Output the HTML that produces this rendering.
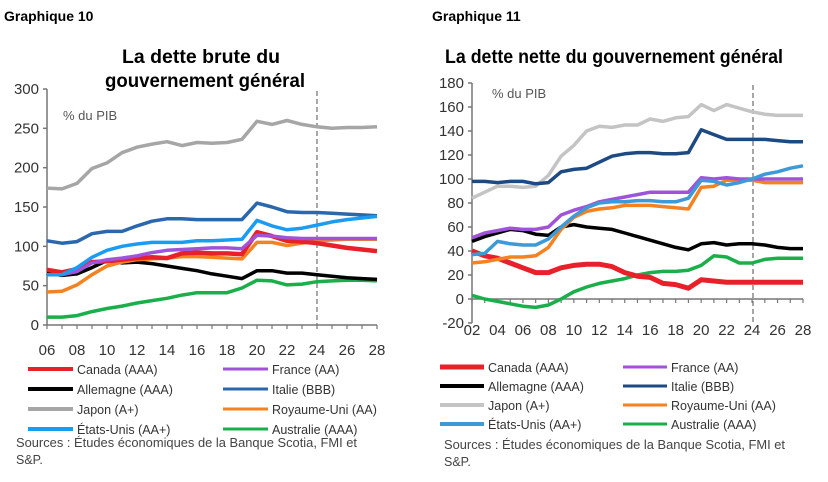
<!DOCTYPE html>
<html><head><meta charset="utf-8">
<style>
body{margin:0;background:#fff;width:828px;height:482px;overflow:hidden;font-family:"Liberation Sans",sans-serif;}
svg{position:absolute;left:0;top:0}
</style></head><body>
<svg id="s" width="828" height="482" xmlns="http://www.w3.org/2000/svg" font-family="Liberation Sans, sans-serif">
<text x="4" y="21" font-size="14" font-weight="bold" fill="#000">Graphique 10</text>
<text x="432" y="21" font-size="14" font-weight="bold" fill="#000">Graphique 11</text>
<text x="122" y="63" font-size="19" font-weight="bold" textLength="158" lengthAdjust="spacingAndGlyphs">La dette brute du</text>
<text x="105" y="87" font-size="19" font-weight="bold" textLength="200" lengthAdjust="spacingAndGlyphs">gouvernement général</text>
<text x="445" y="63" font-size="19" font-weight="bold" textLength="338" lengthAdjust="spacingAndGlyphs">La dette nette du gouvernement général</text>
<text x="63" y="120" font-size="13" fill="#555">% du PIB</text>
<text x="492" y="98" font-size="13" fill="#555">% du PIB</text>
<text x="16" y="447" font-size="12.5" fill="#444" textLength="341" lengthAdjust="spacingAndGlyphs">Sources : Études économiques de la Banque Scotia, FMI et</text>
<text x="16" y="464" font-size="12.5" fill="#444">S&amp;P.</text>
<text x="444" y="449" font-size="12.5" fill="#444" textLength="341" lengthAdjust="spacingAndGlyphs">Sources : Études économiques de la Banque Scotia, FMI et</text>
<text x="444" y="466" font-size="12.5" fill="#444">S&amp;P.</text>
<g id="g"></g>
</svg>
<script>
var g=document.getElementById('g'),h='';
function ln(x1,y1,x2,y2,c,w,d){h+='<line x1="'+x1+'" y1="'+y1+'" x2="'+x2+'" y2="'+y2+'" stroke="'+c+'" stroke-width="'+w+'"'+(d?' stroke-dasharray="'+d+'"':'')+'/>';}
function tx(x,y,t,a,s,c){h+='<text x="'+x+'" y="'+y+'" font-size="'+(s||14)+'" text-anchor="'+(a||'start')+'" fill="'+(c||'#333')+'">'+t+'</text>';}
function chart(o){
 var X=function(i){return o.x0+i*o.dx},Y=function(v){return o.y0-v*o.dy};
 ln(o.x0,Y(o.ymin),o.x0,Y(o.ymax),'#777',1.5);
 for(var v=o.ymin;v<=o.ymax;v+=o.ystep){ln(o.x0-4,Y(v),o.x0,Y(v),'#777',1.5);tx(o.x0-8,Y(v)+5,v,'end',15);}
 ln(o.x0,Y(0),X(o.n-1),Y(0),'#777',1.5);
 for(var i=0;i<o.n;i++){ln(X(i),Y(0),X(i),Y(0)+4,'#777',1.2);}
 for(var i=0;i<o.n;i+=2){var yr=o.start+i;tx(X(i),o.xly,(yr<10?'0':'')+yr,'middle',15);}
 ln(o.dash,Y(o.ymax)+2,o.dash,Y(o.ymin),'#777',1.3,'5,3');
 o.series.forEach(function(s){var p=s.d.map(function(v,i){return (i?'L':'M')+X(i).toFixed(1)+','+Y(v).toFixed(1)}).join('');
  h+='<path d="'+p+'" fill="none" stroke="'+s.c+'" stroke-width="'+(s.w||3.5)+'" stroke-linejoin="round"/>';});
 var L=o.leg;o.legend.forEach(function(s,k){var col=k%2,row=Math.floor(k/2);var lx=L.x[col],ly=L.y+row*L.dy;
  ln(lx,ly,lx+L.len,ly,s.c,s.w||4);tx(lx+L.len+4,ly+5,s.n,'start',12.5,'#333');});
}
var CA='#e8202a',FR='#a052d8',DE='#000',JPl='#a6a6a6',UK='#f58220',AU='#1aaf4b';
var L1={ca:[70,67,71,80,81,83,85,86,85,91,92,91,91,90,118,113,107,106,104,101,98,96,94],
fr:[64,64,68,79,83,85,88,92,95,96,97,98,98,97,114,113,111,110,110,110,110,110,110],
de:[66,63,65,73,82,79,80,78,75,72,69,65,62,59,69,69,66,66,64,62,60,59,58],
it:[107,104,106,116,119,119,126,132,135,135,134,134,134,134,155,150,144,143,143,142,141,140,139],
jp:[174,173,180,199,206,219,226,230,233,228,232,231,232,236,259,255,260,255,252,250,251,251,252],
uk:[42,43,51,64,75,80,83,84,85,87,87,86,85,84,105,105,101,104,107,108,109,109,109],
us:[64,64,73,86,95,100,103,105,105,105,107,107,108,109,133,126,121,123,127,131,134,136,138],
au:[10,10,12,17,21,24,28,31,34,38,41,41,41,47,57,56,51,52,55,56,57,57,56]};
var it1='#2a67ad',us1='#1a9cf2';
chart({x0:47,dx:15,y0:325,dy:236/300,ymin:0,ymax:300,ystep:50,n:23,start:6,xly:355,dash:317,
series:[{c:JPl,d:L1.jp},{c:it1,d:L1.it},{c:AU,d:L1.au},{c:DE,d:L1.de},{c:UK,d:L1.uk},{c:CA,d:L1.ca,w:4.5},{c:FR,d:L1.fr},{c:us1,d:L1.us}],
legend:[{c:CA,n:'Canada (AAA)'},{c:FR,n:'France (AA)',w:3},{c:DE,n:'Allemagne (AAA)'},{c:it1,n:'Italie (BBB)',w:3},{c:JPl,n:'Japon (A+)'},{c:UK,n:'Royaume-Uni (AA)',w:3},{c:us1,n:'États-Unis (AA+)'},{c:AU,n:'Australie (AAA)',w:3}],
leg:{x:[28,223],y:369,dy:20,len:45}});
var L2={ca:[40,36,34,30,26,22,22,26,28,29,29,27,22,19,18,13,12,9,16,15,14,14,14,14,14,14,14],
fr:[51,55,57,59,58,58,60,70,74,77,81,83,85,87,89,89,89,89,101,100,101,100,100,100,100,100,100],
de:[48,52,55,58,57,54,53,60,62,60,59,58,55,52,49,46,43,41,46,47,45,46,46,45,43,42,42],
it:[98,98,97,98,98,96,97,106,108,109,114,119,121,122,122,121,121,122,141,137,133,133,133,133,132,131,131],
jp:[84,89,94,94,93,94,103,119,128,140,144,143,145,145,150,148,151,152,162,157,162,159,156,154,153,153,153],
uk:[30,31,33,35,35,36,43,58,68,73,75,76,78,78,78,77,76,75,93,94,99,99,99,97,97,97,97],
us:[37,38,48,46,45,45,50,60,69,76,80,81,81,82,82,81,81,84,99,98,95,97,100,104,106,109,111],
au:[3,0,-2,-4,-6,-7,-5,0,6,10,13,15,17,20,22,23,23,24,28,36,35,30,30,33,34,34,34]};
var it2='#1d4a82',us2='#3d9ad8',jp2='#c4c4c4';
chart({x0:472,dx:331/26,y0:299,dy:1.2,ymin:-20,ymax:180,ystep:20,n:27,start:2,xly:335,dash:753,
series:[{c:jp2,d:L2.jp},{c:it2,d:L2.it},{c:DE,d:L2.de},{c:AU,d:L2.au},{c:CA,d:L2.ca,w:5},{c:UK,d:L2.uk},{c:FR,d:L2.fr},{c:us2,d:L2.us}],
legend:[{c:CA,n:'Canada (AAA)',w:5},{c:FR,n:'France (AA)',w:3},{c:DE,n:'Allemagne (AAA)'},{c:it2,n:'Italie (BBB)',w:3},{c:jp2,n:'Japon (A+)'},{c:UK,n:'Royaume-Uni (AA)',w:3},{c:us2,n:'États-Unis (AA+)'},{c:AU,n:'Australie (AAA)',w:3}],
leg:{x:[440,623],y:367,dy:19,len:44}});
g.innerHTML=h;
</script>
</body></html>
